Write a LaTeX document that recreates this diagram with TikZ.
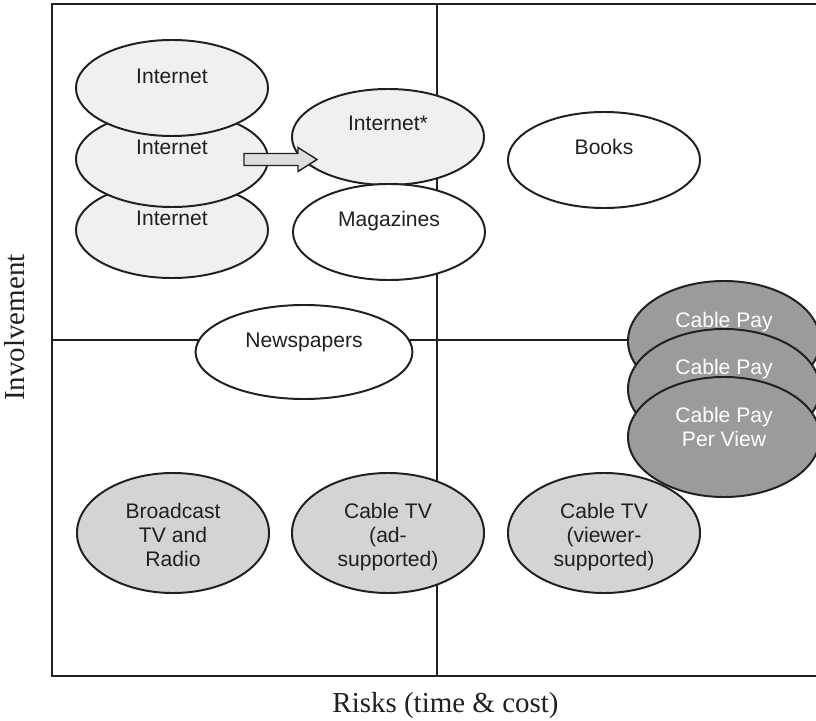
\documentclass[tikz,border=0pt]{standalone}
\usepackage{fontspec}
\setmainfont{Liberation Serif}
\setsansfont{Liberation Sans}
\usetikzlibrary{shapes.geometric}
\definecolor{ink}{HTML}{231F20}
\definecolor{palegray}{HTML}{EFF0EF}
\definecolor{midgray}{HTML}{D3D4D5}
\definecolor{paydark}{HTML}{9A9B9C}
\definecolor{arrowgray}{HTML}{DDDEDF}
\begin{document}
\begin{tikzpicture}[x=0.025cm, y=-0.025cm, line width=1.4pt, ink,
  oval/.style={ellipse, draw=ink, inner sep=0pt, minimum width=4.8cm, minimum height=2.4cm},
  tall/.style={oval, minimum height=3cm},
  txt/.style={font=\sffamily\fontsize{15}{17}\selectfont, align=center, text=ink, inner sep=0pt},
  axis/.style={font=\fontsize{20.6}{24}\selectfont, text=ink, inner sep=0pt}]
  \useasboundingbox (0,0) rectangle (816,721);
  \clip (0,0) rectangle (816,721);
  % 사분면
  \draw (52,4) rectangle (840,676);
  \draw (437,4) -- (437,676);
  \draw (52,340) -- (840,340);
  % 인터넷
  \node[oval, fill=palegray] (int3) at (172,230) {};
  \node[txt] (int3-t) at (172,218) {Internet};
  \node[oval, fill=palegray] (int2) at (172,159) {};
  \node[txt] (int2-t) at (172,147) {Internet};
  \node[oval, fill=palegray] (int1) at (172,88) {};
  \node[txt] (int1-t) at (172,76) {Internet};
  \node[oval, fill=palegray] (intx) at (388,137) {};
  \node[txt] (intx-t) at (388,123) {Internet*};
  \node[oval, fill=white] (mag) at (389,232) {};
  \node[txt] (mag-t) at (389,221) {Magazines};
  \node[oval, fill=white] (books) at (604,160) {};
  \node[txt] (books-t) at (604,147) {Books};
  \node[oval, fill=white, minimum width=5.42cm, minimum height=2.35cm] (news) at (304,352) {};
  \node[txt] (news-t) at (304,342) {Newspapers};
  % 화살표
  \coordinate (a0) at (244,159);
  \draw[fill=arrowgray, line width=1pt] (a0) ++(0,-5.5) -- ++(54,0) -- ++(0,-6) -- ++(19,12)
    -- ++(-19,12) -- ++(0,-6) -- ++(-54,0) -- cycle;
  % 방송
  \node[tall, fill=midgray] (bcast) at (173,533) {};
  \node[txt] (bcast-t) at (173,535) {Broadcast\\TV and\\Radio};
  \node[tall, fill=midgray] (cad) at (388,533) {};
  \node[txt] (cad-t) at (388,537) {Cable TV\\(ad-\\supported)};
  \node[tall, fill=midgray] (cview) at (604,533) {};
  \node[txt] (cview-t) at (604,537) {Cable TV\\(viewer-\\supported)};
  % 유료
  \node[tall, fill=paydark] (pay1) at (724,341) {};
  \node[txt, text=white] (pay1-t) at (724,322) {Cable Pay};
  \node[tall, fill=paydark] (pay2) at (724,389) {};
  \node[txt, text=white] (pay2-t) at (724,369) {Cable Pay};
  \node[tall, fill=paydark] (pay3) at (724,437) {};
  \node[txt, text=white] (pay3-t) at (724,427) {Cable Pay\\Per View};
  % 축
  \node[axis, anchor=base] (risk) at (445.5,712) {Risks (time \& cost)};
  \node[axis, anchor=base, rotate=90] (inv) at (25,327.5) {Involvement};
\end{tikzpicture}
\end{document}
